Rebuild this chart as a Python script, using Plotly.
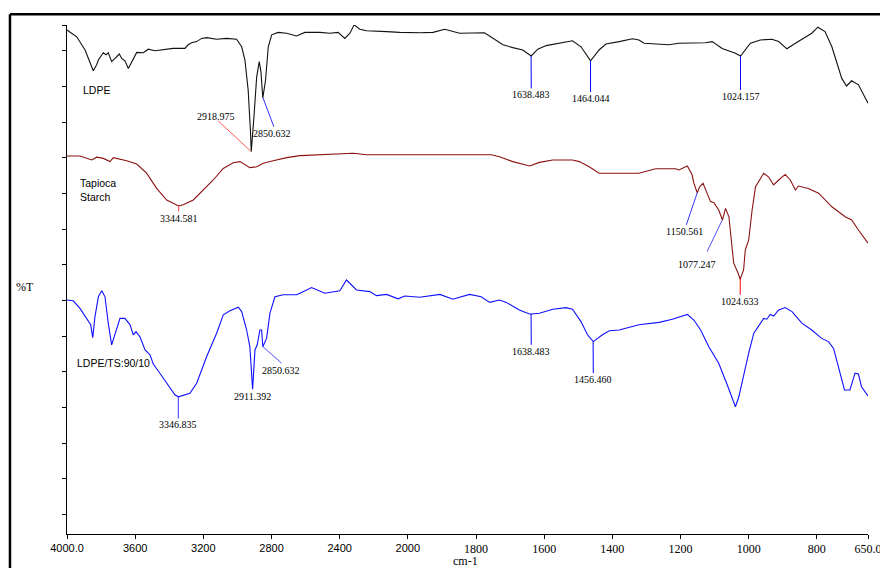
import numpy as np
import plotly.graph_objects as go

# ---------------- data (wavenumber cm-1, %T arbitrary stacked units) ----------------
ldpe_wn = [4000, 3943, 3894, 3865, 3846, 3826, 3816, 3787, 3771, 3758, 3738, 3718, 3693, 3679, 3660,
           3640, 3620, 3591, 3552, 3523, 3484, 3435, 3377, 3308, 3289, 3269, 3239, 3210, 3181, 3122,
           3063, 3005, 2975, 2956, 2937, 2923, 2919, 2903, 2887, 2872, 2862, 2851, 2835, 2819, 2799,
           2761, 2711, 2653, 2633, 2614, 2604, 2516, 2458, 2409, 2370, 2340, 2315, 2282, 2242, 2125,
           2047, 1965, 1926, 1892, 1848, 1775, 1751, 1721, 1692, 1663, 1638, 1619, 1594, 1556, 1517,
           1492, 1477, 1464, 1439, 1419, 1380, 1341, 1322, 1307, 1234, 1205, 1127, 1107, 1078, 1039,
           1024, 995, 966, 932, 912, 888, 863, 834, 815, 797, 776, 756, 742, 727, 713, 698, 678, 650]
ldpe_t = [126.0, 124.3, 121.0, 117.8, 115.8, 117.3, 118.5, 120.3, 119.8, 120.3, 118.1, 118.9, 120.0, 118.9, 118.3,
          116.4, 118.1, 120.4, 120.3, 121.2, 120.8, 121.0, 121.4, 121.4, 122.3, 122.8, 123.1, 123.9, 124.1, 123.7,
          123.9, 123.7, 121.8, 118.5, 111.0, 100.3, 95.6, 104.3, 114.3, 118.1, 115.6, 109.0, 113.5, 121.8, 124.8,
          125.4, 125.2, 124.5, 124.8, 125.2, 125.4, 125.4, 125.2, 125.4, 123.9, 125.2, 127.3, 126.2, 125.8, 125.6,
          125.4, 125.3, 125.4, 126.2, 125.2, 125.3, 123.9, 122.3, 121.6, 121.0, 119.5, 121.2, 122.1, 122.7, 123.3,
          121.8, 119.8, 118.3, 121.0, 122.5, 123.1, 123.8, 123.5, 122.7, 122.3, 122.7, 122.8, 123.1, 121.4, 120.2,
          119.5, 122.7, 123.5, 123.7, 123.1, 121.3, 122.7, 124.1, 125.2, 126.7, 125.6, 121.8, 117.7, 113.9, 112.0,
          113.3, 112.3, 107.7]

starch_wn = [4000, 3924, 3855, 3826, 3787, 3748, 3728, 3650, 3591, 3533, 3474, 3415, 3345, 3318, 3259,
             3201, 3142, 3083, 3025, 2985, 2956, 2927, 2887, 2849, 2790, 2711, 2633, 2516, 2418, 2321,
             2242, 2164, 1906, 1755, 1731, 1692, 1643, 1614, 1575, 1517, 1497, 1468, 1439, 1322, 1273,
             1214, 1205, 1180, 1166, 1161, 1151, 1144, 1134, 1122, 1112, 1102, 1088, 1077, 1068, 1058,
             1051, 1044, 1031, 1025, 1015, 1010, 1000, 990, 980, 966, 956, 942, 927, 912, 893, 878,
             863, 854, 825, 795, 756, 717, 698, 678, 650]
starch_t = [94.5, 94.5, 93.5, 94.2, 93.9, 93.1, 94.1, 93.3, 92.5, 90.2, 86.4, 83.5, 82.0, 82.3, 83.5,
            86.0, 88.5, 91.4, 92.8, 93.1, 92.3, 91.6, 91.8, 92.7, 93.3, 94.1, 94.6, 94.8, 95.0, 95.2,
            94.8, 94.8, 94.9, 94.8, 94.3, 93.1, 92.0, 92.9, 93.5, 93.5, 93.1, 91.8, 90.2, 90.2, 91.3,
            91.3, 91.0, 92.0, 89.8, 87.7, 85.3, 86.8, 87.7, 85.2, 83.1, 82.8, 81.0, 78.5, 81.4, 79.3,
            73.5, 67.7, 65.2, 63.7, 66.0, 71.0, 73.5, 81.0, 86.8, 88.9, 90.2, 89.3, 87.3, 88.5, 89.9, 88.5,
            86.0, 87.0, 86.4, 85.2, 81.8, 79.3, 78.5, 76.0, 72.7]

blend_wn = [4000, 3963, 3924, 3884, 3861, 3849, 3836, 3816, 3796, 3777, 3758, 3738, 3718, 3689, 3660,
            3630, 3611, 3595, 3572, 3542, 3513, 3494, 3455, 3415, 3367, 3347, 3279, 3239, 3181, 3122,
            3083, 3044, 2995, 2975, 2946, 2927, 2911, 2897, 2884, 2868, 2858, 2851, 2829, 2809, 2780,
            2731, 2653, 2633, 2575, 2565, 2487, 2399, 2360, 2301, 2223, 2184, 2125, 2057, 2018, 1965,
            1906, 1868, 1819, 1785, 1760, 1731, 1711, 1673, 1643, 1638, 1614, 1575, 1536, 1517, 1492,
            1473, 1456, 1429, 1409, 1380, 1322, 1263, 1224, 1180, 1161, 1141, 1117, 1088, 1063, 1039,
            1029, 1015, 1000, 985, 966, 956, 947, 937, 927, 912, 893, 873, 844, 815, 786, 766, 751,
            737, 719, 703, 688, 678, 669, 650]
blend_t = [58.5, 58.3, 56.4, 53.9, 52.3, 49.1, 54.3, 59.3, 60.8, 59.3, 52.7, 47.3, 50.2, 53.9, 53.9,
           52.3, 49.8, 50.6, 49.3, 46.0, 44.8, 42.5, 40.2, 37.7, 34.8, 34.3, 35.2, 37.7, 44.3, 50.2,
           54.8, 55.8, 56.7, 55.6, 51.0, 46.8, 36.2, 46.0, 47.3, 51.0, 51.0, 46.8, 48.9, 55.2, 59.3,
           59.8, 59.8, 60.2, 61.3, 61.6, 60.2, 60.8, 63.5, 61.0, 60.6, 59.6, 59.9, 58.8, 59.5, 59.2,
           59.9, 58.7, 59.9, 59.3, 57.9, 58.5, 57.9, 56.0, 55.0, 55.0, 55.2, 56.2, 56.6, 56.2, 53.1,
           49.8, 48.1, 49.8, 50.8, 51.0, 52.3, 52.9, 53.7, 54.9, 53.5, 51.0, 46.8, 42.7, 37.3, 31.8,
           34.3, 39.8, 45.2, 50.2, 52.7, 53.9, 53.7, 54.9, 54.5, 56.0, 56.6, 55.6, 52.7, 51.0, 48.9, 48.1, 46.4,
           41.8, 36.0, 36.0, 40.2, 40.0, 36.8, 34.5]

series_names = ["LDPE", "Tapioca<br>Starch", "LDPE/TS:90/10"]

tick_wn = [4000, 3600, 3200, 2800, 2400, 2000, 1800, 1600, 1400, 1200, 1000, 800, 650]
tick_labels = ["4000.0", "3600", "3200", "2800", "2400", "2000",
               "1800", "1600", "1400", "1200", "1000", "800", "650.0"]

# peak labels: (series index, label, text position (wn, %T), leader end (wn, %T) or None, leader colour)
peak_labels = [
    (0, "2918.975", (3126, 104.3), (3114, 103.3), "#ff5a5a"),
    (0, "2850.632", (2795, 100.2), (2786, 101.8), "#3030ff"),
    (0, "1638.483", (1638, 109.8), (1638, 111.4), "#0000ff"),
    (0, "1464.044", (1464, 108.8), (1464, 110.5), "#0000ff"),
    (0, "1024.157", (1024, 109.5), (1024, 111.0), "#0000ff"),
    (1, "3344.581", (3345, 79.0), (3345, 80.6), "#ff4040"),
    (1, "1150.561", (1188, 75.6), (1183, 77.3), "#3030ff"),
    (1, "1077.247", (1152, 67.3), (1122, 70.6), "#5050ff"),
    (1, "1024.633", (1025, 58.1), (1025, 59.8), "#ff0000"),
    (2, "3346.835", (3347, 27.3), (3347, 28.9), "#3030ff"),
    (2, "2911.392", (2911, 34.3), None, "#0000ff"),
    (2, "2850.632", (2745, 41.0), (2741, 42.7), "#5050ff"),
    (2, "1638.483", (1638, 45.6), (1638, 47.3), "#0000ff"),
    (2, "1456.460", (1456, 38.7), (1456, 40.2), "#0000ff"),
]
name_pos = [(3918, 111.0), (3935, 86.0), (3953, 42.8)]


# ---------------- broken (2x expanded below 2000) wavenumber scale ----------------
def to_u(wn):
    wn = np.asarray(wn, dtype=float)
    return np.where(wn >= 2000, 4000 - wn, 2000 + 2 * (2000 - wn))


colors = ["#111111", "#8b1212", "#1010ff"]
all_wn = [ldpe_wn, starch_wn, blend_wn]
all_t = [ldpe_t, starch_t, blend_t]

fig = go.Figure()
for wn, t, c in zip(all_wn, all_t, colors):
    fig.add_trace(go.Scatter(x=to_u(wn), y=t, mode="lines",
                             line=dict(color=c, width=1.1), showlegend=False, hoverinfo="skip"))
# invisible trace to carry the secondary (serif-labelled) x axis
fig.add_trace(go.Scatter(x=[0, 4700], y=[0, 0], xaxis="x2", yaxis="y", mode="lines",
                         line=dict(width=0), opacity=0, showlegend=False, hoverinfo="skip"))

annotations = []
shapes = []
for si, lab, (tx, ty), end, lc in peak_labels:
    u_arr = to_u(all_wn[si])
    pk = float(lab)
    py = float(np.interp(float(to_u(pk)), u_arr, all_t[si]))
    if end is not None:
        shapes.append(dict(type="line", xref="x", yref="y",
                           x0=float(to_u(pk)), y0=py, x1=float(to_u(end[0])), y1=end[1],
                           line=dict(color=lc, width=1)))
    annotations.append(dict(x=float(to_u(tx)), y=ty, xref="x", yref="y", text=lab, showarrow=False,
                            xanchor="center", yanchor="middle",
                            font=dict(family="Liberation Serif", size=10, color="black")))

for name, (nx, ny) in zip(series_names, name_pos):
    annotations.append(dict(x=float(to_u(nx)), y=ny, xref="x", yref="y", text=name, showarrow=False,
                            xanchor="left", yanchor="middle", align="left",
                            font=dict(family="Liberation Sans", size=10.5, color="black")))

annotations.append(dict(x=-0.0524, y=0.485, xref="paper", yref="paper", text="%T", showarrow=False,
                        xanchor="center", yanchor="middle",
                        font=dict(family="Liberation Serif", size=12, color="black")))
annotations.append(dict(x=0.498, y=-0.053, xref="paper", yref="paper", text="cm-1", showarrow=False,
                        xanchor="center", yanchor="middle",
                        font=dict(family="Liberation Serif", size=12, color="black")))

# outer frame (thick lines on top and left)
shapes.append(dict(type="line", xref="paper", yref="paper", x0=-0.0712, y0=1.021, x1=1.02, y1=1.021,
                   line=dict(color="black", width=2.5)))
shapes.append(dict(type="line", xref="paper", yref="paper", x0=-0.0712, y0=1.021, x1=-0.0712, y1=-0.07,
                   line=dict(color="black", width=2.5)))

left_vals = [float(to_u(w)) for w in tick_wn if w >= 2000]
left_text = [l for w, l in zip(tick_wn, tick_labels) if w >= 2000]
right_vals = [float(to_u(w)) for w in tick_wn if w < 2000]
right_text = [l for w, l in zip(tick_wn, tick_labels) if w < 2000]

y_ticks = [127.25] + [120.8 - 8.915 * k for k in range(14)]

fig.update_layout(
    width=880, height=568, autosize=False,
    margin=dict(l=67, r=12, t=25, b=34, autoexpand=False),
    paper_bgcolor="white", plot_bgcolor="white",
    annotations=annotations, shapes=shapes,
    xaxis=dict(range=[0, 4700], tickvals=left_vals, ticktext=left_text, automargin=False,
               ticks="outside", ticklen=4, tickcolor="black", showline=True, linecolor="black",
               linewidth=1, showgrid=False, zeroline=False, ticklabeloverflow="allow",
               tickfont=dict(family="Liberation Sans", size=11, color="black")),
    xaxis2=dict(range=[0, 4700], overlaying="x", anchor="y", side="bottom", automargin=False,
                tickvals=right_vals, ticktext=right_text,
                ticks="outside", ticklen=4, tickcolor="black", showline=False,
                showgrid=False, zeroline=False, ticklabeloverflow="allow",
                tickfont=dict(family="Liberation Serif", size=12, color="black")),
    yaxis=dict(range=[0, 127.25], tickvals=y_ticks, showticklabels=False, automargin=False,
               ticks="outside", ticklen=4, tickcolor="black", showline=True, linecolor="black",
               linewidth=1, showgrid=False, zeroline=False),
)

fig.write_html("out.html")
